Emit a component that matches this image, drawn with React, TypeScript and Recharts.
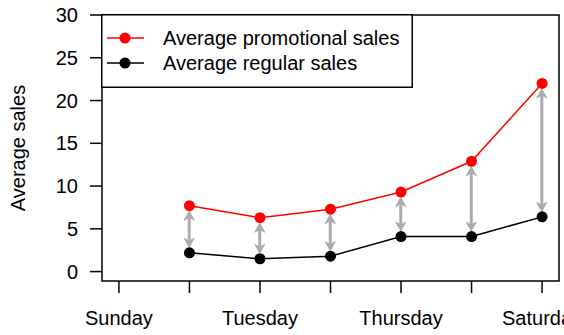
import React from 'react';
import {
  ComposedChart,
  Line,
  Bar,
  XAxis,
  YAxis,
  ReferenceArea,
  Label,
} from 'recharts';

const DAYS = ['Sunday', 'Monday', 'Tuesday', 'Wednesday', 'Thursday', 'Friday', 'Saturday'];
const DAY_INDEX = [2, 3, 4, 5, 6, 7];
const PROMO_SALES = [7.7, 6.3, 7.3, 9.3, 12.9, 22.0];
const REGULAR_SALES = [2.2, 1.5, 1.8, 4.1, 4.1, 6.4];
const Y_TICKS = [0, 5, 10, 15, 20, 25, 30];
const X_TICKS = [1, 2, 3, 4, 5, 6, 7];

const FONT = '"Liberation Sans", Arial, Helvetica, sans-serif';
const FONT_SIZE = 20;
const ARROW_COLOR = '#ababab';

const data = DAY_INDEX.map((day, i) => ({
  day,
  promo: PROMO_SALES[i],
  regular: REGULAR_SALES[i],
  gap: [REGULAR_SALES[i], PROMO_SALES[i]],
}));

// double-headed arrow spanning the range bar, pulled in a little from both points
const GapArrow = (props: any) => {
  const { x, y, width, height } = props;
  const cx = x + width / 2;
  const inset = 5.5;
  const top = y + inset;
  const bottom = y + height - inset;
  const headLen = 9;
  const headHalf = 5;
  const notch = 3;
  return (
    <g>
      <line
        x1={cx}
        x2={cx}
        y1={top + headLen - notch}
        y2={bottom - headLen + notch}
        stroke={ARROW_COLOR}
        strokeWidth={3}
      />
      <polygon
        points={`${cx},${top} ${cx - headHalf},${top + headLen} ${cx},${top + headLen - notch} ${cx + headHalf},${top + headLen}`}
        fill={ARROW_COLOR}
        stroke={ARROW_COLOR}
        strokeWidth={1}
        strokeLinejoin="round"
      />
      <polygon
        points={`${cx},${bottom} ${cx - headHalf},${bottom - headLen} ${cx},${bottom - headLen + notch} ${cx + headHalf},${bottom - headLen}`}
        fill={ARROW_COLOR}
        stroke={ARROW_COLOR}
        strokeWidth={1}
        strokeLinejoin="round"
      />
    </g>
  );
};

const LegendRow = ({ color, label, y }: { color: string; label: string; y: number }) => (
  <g>
    <line x1={6} x2={43} y1={y} y2={y} stroke={color} strokeWidth={1.5} />
    <circle cx={24} cy={y} r={5.5} fill={color} />
    <text x={62} y={y} dy="0.36em" fontSize={FONT_SIZE} fontFamily={FONT} fill="#000">
      {label}
    </text>
  </g>
);

const App = () => {
  return (
    <div style={{ position: 'absolute', left: 0, top: 0, width: 564, height: 335, background: '#fff' }}>
      <ComposedChart
        width={564}
        height={335}
        data={data}
        margin={{ top: 15, right: 5, bottom: 14, left: 0 }}
        style={{ fontFamily: FONT }}
      >
        <XAxis
          dataKey="day"
          type="number"
          domain={[0.76, 7.24]}
          ticks={X_TICKS}
          interval={0}
          height={40}
          tickSize={12}
          tickMargin={18}
          axisLine={false}
          tickLine={{ stroke: '#000', strokeWidth: 1.5 }}
          tick={{ fill: '#000', fontSize: FONT_SIZE }}
          tickFormatter={(v: number) => (v % 2 === 1 ? DAYS[v - 1] : '')}
        />
        <YAxis
          type="number"
          domain={[-1.1, 30]}
          ticks={Y_TICKS}
          interval={0}
          width={102}
          tickSize={12}
          tickMargin={12}
          axisLine={false}
          tickLine={{ stroke: '#000', strokeWidth: 1.5 }}
          tick={{ fill: '#000', fontSize: FONT_SIZE }}
        >
          <Label
            content={({ viewBox }: any) => {
              const cy = viewBox.y + viewBox.height / 2;
              return (
                <text
                  x={18}
                  y={cy}
                  transform={`rotate(-90, 18, ${cy})`}
                  textAnchor="middle"
                  dy="0.36em"
                  fontSize={FONT_SIZE}
                  fontFamily={FONT}
                  fill="#000"
                >
                  Average sales
                </text>
              );
            }}
          />
        </YAxis>
        <ReferenceArea
          x1={0.76}
          x2={7.24}
          y1={-1.1}
          y2={30}
          fill="none"
          stroke="#000"
          strokeWidth={1.5}
          ifOverflow="visible"
        />
        <Bar dataKey="gap" barSize={10} shape={<GapArrow />} isAnimationActive={false} />
        <Line
          dataKey="regular"
          stroke="#000"
          strokeWidth={1.5}
          dot={{ r: 5.5, fill: '#000', stroke: 'none' }}
          activeDot={false}
          isAnimationActive={false}
        />
        <Line
          dataKey="promo"
          stroke="#ff0000"
          strokeWidth={1.5}
          dot={{ r: 5.5, fill: '#ff0000', stroke: 'none' }}
          activeDot={false}
          isAnimationActive={false}
        />
      </ComposedChart>
      <svg
        width={312}
        height={74}
        style={{ position: 'absolute', left: 101, top: 14, overflow: 'visible' }}
      >
        <rect x={0.75} y={0.75} width={310.5} height={72.5} fill="#fff" stroke="#000" strokeWidth={1.5} />
        <LegendRow color="#ff0000" label="Average promotional sales" y={24} />
        <LegendRow color="#000" label="Average regular sales" y={49} />
      </svg>
    </div>
  );
};

export default App;
